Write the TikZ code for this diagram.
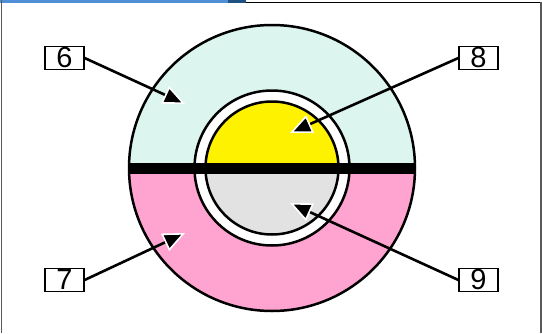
\documentclass[tikz,border=0pt]{standalone}
\usepackage{fontspec}
\setmainfont{Liberation Sans}
\usetikzlibrary{arrows.meta}
\definecolor{cyanfill}{HTML}{DCF6EF}
\definecolor{pinkfill}{HTML}{FFA3D1}
\definecolor{grayfill}{HTML}{E2E2E2}
\definecolor{barblue}{HTML}{4F8FD8}
\definecolor{bardark}{HTML}{1E5280}
\begin{document}
\begin{tikzpicture}[x=1pt,y=-1pt,
  lbl/.style={draw=black,line width=1.2pt,fill=white,minimum width=39pt,minimum height=23pt,inner sep=0pt,font=\fontsize{29}{29}\selectfont},
  ptr/.style={line width=2.6pt,-{Triangle[length=22pt,width=19pt,color=white,fill=black,line width=1.6pt]}}]
\useasboundingbox (0,0) rectangle (542,333);
% frame
\fill[barblue] (0,0) rectangle (228,3.2);
\fill[bardark] (228,0) rectangle (246,3.2);
\draw[black,line width=1.3pt] (246,2.4) -- (542,2.4);
\draw[gray!70!black,line width=1.6pt] (1.6,0) -- (1.6,333);
\draw[gray!70!black,line width=1.6pt] (541,2) -- (541,333);
% outer disc
\coordinate (c) at (272,168);
\begin{scope}
\clip (c) circle (143);
\fill[cyanfill] (129,20) rectangle (416,168);
\fill[pinkfill] (129,168) rectangle (416,316);
\end{scope}
\draw[line width=2.5pt] (c) circle (143);
% ring
\fill[white] (c) circle (77.5);
\draw[line width=2.5pt] (c) circle (77.5);
\begin{scope}
\clip (c) circle (66.5);
\fill[yellow] (200,90) rectangle (345,168);
\fill[grayfill] (200,168) rectangle (345,246);
\end{scope}
\draw[line width=2.5pt] (c) circle (66.5);
% bar
\begin{scope}
\clip (c) circle (144);
\fill[black] (120,162.5) rectangle (424,173.5);
\end{scope}
% labels
\node[lbl] (l6) at (64.5,58) {6};
\node[lbl] (l7) at (64.5,280) {7};
\node[lbl] (l8) at (478.5,58) {8};
\node[lbl] (l9) at (478.5,280) {9};
\coordinate (t6) at (185,104);
\coordinate (t7) at (185,233);
\coordinate (t8) at (290,133);
\coordinate (t9) at (290,203);
\draw[ptr] (l6.east) -- (t6);
\draw[ptr] (l7.east) -- (t7);
\draw[ptr] (l8.west) -- (t8);
\draw[ptr] (l9.west) -- (t9);
\end{tikzpicture}
\end{document}
